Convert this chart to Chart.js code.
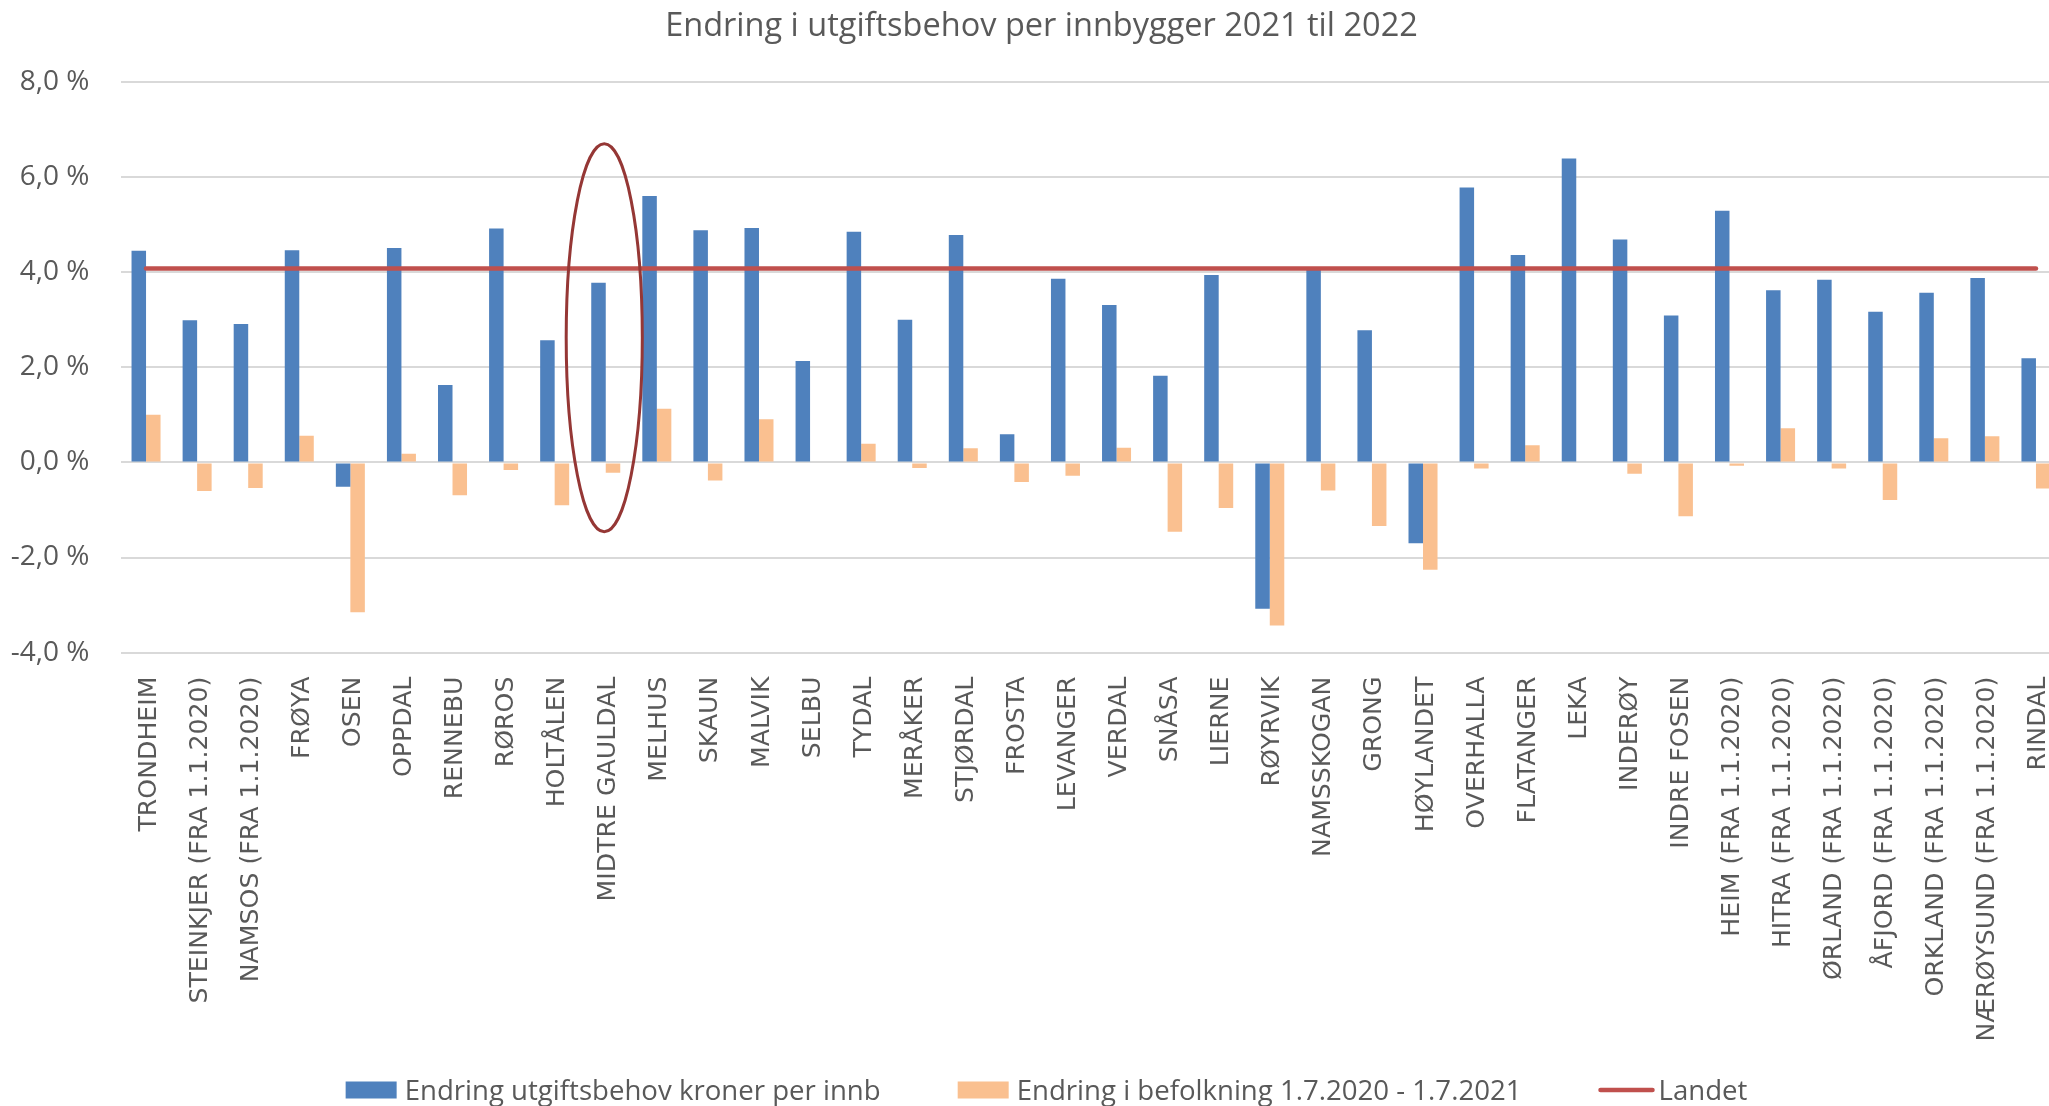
<!DOCTYPE html>
<html><head><meta charset="utf-8">
<script src="https://cdn.jsdelivr.net/npm/chart.js@4.4.1/dist/chart.umd.min.js"></script>
<style>
html,body{margin:0;padding:0;overflow:hidden;background:#fff;width:2049px;height:1106px}
#wrap{position:absolute;left:0;top:0;width:2085px;height:1106px}
</style></head><body>
<div id="wrap"><canvas id="c" width="2085" height="1106"></canvas></div>
<script>
const categories = ['TRONDHEIM','STEINKJER (FRA 1.1.2020)','NAMSOS (FRA 1.1.2020)','FRØYA','OSEN','OPPDAL','RENNEBU','RØROS','HOLTÅLEN','MIDTRE GAULDAL','MELHUS','SKAUN','MALVIK','SELBU','TYDAL','MERÅKER','STJØRDAL','FROSTA','LEVANGER','VERDAL','SNÅSA','LIERNE','RØYRVIK','NAMSSKOGAN','GRONG','HØYLANDET','OVERHALLA','FLATANGER','LEKA','INDERØY','INDRE FOSEN','HEIM (FRA 1.1.2020)','HITRA (FRA 1.1.2020)','ØRLAND (FRA 1.1.2020)','ÅFJORD (FRA 1.1.2020)','ORKLAND (FRA 1.1.2020)','NÆRØYSUND (FRA 1.1.2020)','RINDAL'];
const utgiftsbehov = [4.45,2.99,2.91,4.46,-0.51,4.51,1.63,4.92,2.57,3.78,5.60,4.88,4.93,2.13,4.85,3.00,4.78,0.59,3.86,3.31,1.82,3.94,-3.08,4.05,2.78,-1.70,5.78,4.36,6.39,4.69,3.09,5.29,3.62,3.84,3.17,3.57,3.88,2.19];
const befolkning = [1.00,-0.60,-0.54,0.56,-3.15,0.18,-0.69,-0.16,-0.90,-0.22,1.13,-0.38,0.91,0,0.39,-0.12,0.30,-0.41,-0.28,0.31,-1.46,-0.96,-3.43,-0.59,-1.34,-2.26,-0.13,0.36,0,-0.24,-1.13,-0.07,0.72,-0.13,-0.79,0.51,0.55,-0.55];
const landet = [4.08,4.08,4.08,4.08,4.08,4.08,4.08,4.08,4.08,4.08,4.08,4.08,4.08,4.08,4.08,4.08,4.08,4.08,4.08,4.08,4.08,4.08,4.08,4.08,4.08,4.08,4.08,4.08,4.08,4.08,4.08,4.08,4.08,4.08,4.08,4.08,4.08,4.08];
const seriesNames = ['Endring utgiftsbehov kroner per innb','Endring i befolkning 1.7.2020 - 1.7.2021','Landet'];
const chartTitle = 'Endring i utgiftsbehov per innbygger 2021 til 2022';
const yMin = -4, yMax = 8, yStep = 2;
const highlight = {category: 9, top: 6.70, bottom: -1.46, halfWidth: 0.745};

const ellipsePlugin = {
  id: 'ellipse',
  afterDatasetsDraw(chart) {
    const {ctx, scales: {x, y}} = chart;
    const cx = x.getPixelForValue(highlight.category);
    const cw = x.getPixelForValue(1) - x.getPixelForValue(0);
    const yt = y.getPixelForValue(highlight.top), yb = y.getPixelForValue(highlight.bottom);
    ctx.save();
    ctx.beginPath();
    ctx.ellipse(cx - 1.5, (yt + yb) / 2, cw * highlight.halfWidth, (yb - yt) / 2, 0, 0, Math.PI * 2);
    ctx.strokeStyle = '#953735';
    ctx.lineWidth = 3;
    ctx.stroke();
    ctx.restore();
  }
};

// Excel-style legend drawn from the chart's own datasets
const legendPlugin = {
  id: 'excelLegend',
  afterDraw(chart) {
    const ctx = chart.ctx;
    const ds = chart.data.datasets;
    const boxH = 17, itemGap = 77;
    ctx.save();
    ctx.font = '27.6px "Open Sans"';
    ctx.textBaseline = 'alphabetic';
    ctx.textAlign = 'left';
    const boxW = d => d.type === 'line' ? 56 : 51;
    const gap = d => d.type === 'line' ? 4 : 8;
    const widths = ds.map(d => ctx.measureText(d.label).width);
    const total = ds.reduce((a, d, i) => a + boxW(d) + gap(d) + widths[i], 0) + itemGap * (ds.length - 1);
    let x = chart.width / 2 + 4 - total / 2;
    const cy = chart.height - 16;
    ds.forEach((d, i) => {
      if (d.type === 'line') {
        ctx.beginPath();
        ctx.moveTo(x + 2, cy);
        ctx.lineTo(x + boxW(d) - 2, cy);
        ctx.strokeStyle = d.borderColor;
        ctx.lineWidth = d.borderWidth;
        ctx.lineCap = 'round';
        ctx.stroke();
      } else {
        ctx.fillStyle = d.backgroundColor;
        ctx.fillRect(x, cy - boxH / 2, boxW(d), boxH);
      }
      ctx.fillStyle = '#595959';
      ctx.fillText(d.label, x + boxW(d) + gap(d), cy + 9.5);
      x += boxW(d) + gap(d) + widths[i] + itemGap;
    });
    ctx.restore();
  }
};

new Chart(document.getElementById('c'), {
  data: {
    labels: categories,
    datasets: [
      {type: 'bar', label: seriesNames[0], data: utgiftsbehov, backgroundColor: '#4F81BD', order: 1},
      {type: 'bar', label: seriesNames[1], data: befolkning, backgroundColor: '#FAC090', order: 1},
      {type: 'line', label: seriesNames[2], data: landet, borderColor: '#C0504D', backgroundColor: '#C0504D',
       borderWidth: 4.5, borderCapStyle: 'round', pointRadius: 0, tension: 0, order: 0}
    ]
  },
  options: {
    responsive: false, animation: false, devicePixelRatio: 1,
    layout: {padding: {top: 0, left: 21.5, right: 23.5, bottom: 53.4}},
    datasets: {bar: {categoryPercentage: 0.568, barPercentage: 1}},
    plugins: {
      title: {display: true, text: chartTitle, color: '#595959',
        font: {family: 'Open Sans', size: 32.5, weight: 'normal'}, padding: {top: 7, bottom: 36}},
      legend: {display: false},
      tooltip: {enabled: false}
    },
    scales: {
      x: {ticks: {autoSkip: false, maxRotation: 90, minRotation: 90, padding: 16, labelOffset: 3, color: '#595959',
            font: {family: 'DejaVu Sans', size: 25.2}},
          grid: {display: false}, border: {display: false},
          afterFit(s) { s.height = 400; }},
      y: {min: yMin, max: yMax,
          ticks: {stepSize: yStep, padding: 31, color: '#595959', font: {family: 'Open Sans', size: 28},
            callback: v => v.toFixed(1).replace('.', ',') + ' %'},
          grid: {color: '#D9D9D9', lineWidth: 2, drawTicks: false}, border: {display: false},
          afterFit(s) {
            s.width = 99;
            s._computeLabelArea = () => ({top: 0, left: 0, bottom: s.chart.height, right: s.right});
          }}
    }
  },
  plugins: [ellipsePlugin, legendPlugin]
});
</script>
</body></html>
